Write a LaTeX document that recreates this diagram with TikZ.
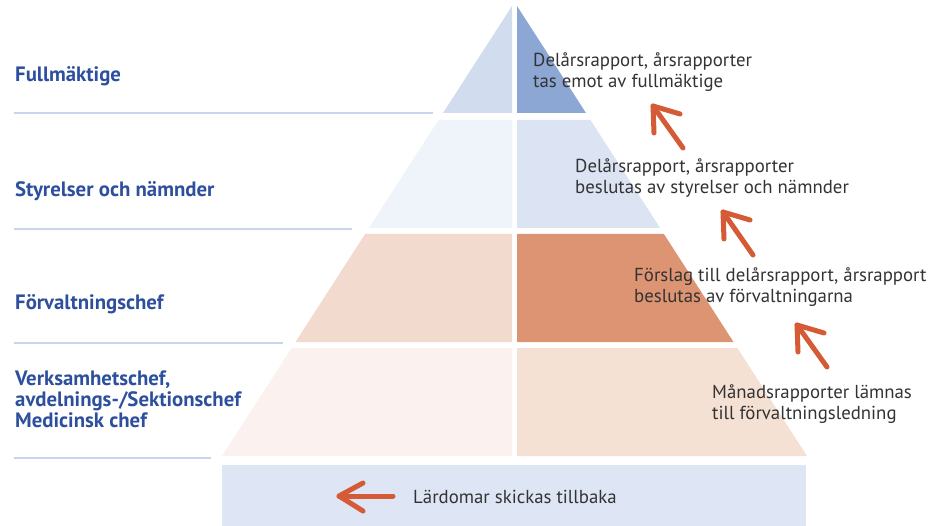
\documentclass[tikz,border=0pt]{standalone}
\usepackage{fontspec}
\setmainfont{PT Sans}
\usetikzlibrary{calc}
\definecolor{tAl}{HTML}{D2DCEF}
\definecolor{tAr}{HTML}{8DA7D5}
\definecolor{tBl}{HTML}{EFF3FA}
\definecolor{tBr}{HTML}{DCE4F4}
\definecolor{tCl}{HTML}{F3DACE}
\definecolor{tCr}{HTML}{DD9473}
\definecolor{tDl}{HTML}{FBF1EE}
\definecolor{tDr}{HTML}{F5E1D4}
\definecolor{barc}{HTML}{DEE5F4}
\definecolor{lblue}{HTML}{2D4F9E}
\definecolor{txtc}{HTML}{333333}
\definecolor{arrc}{HTML}{D45B36}
\definecolor{rulec}{HTML}{C9D5EC}
\tikzset{
  lvl/.style={anchor=base west, inner sep=0pt, font=\fontsize{20.8}{21}\selectfont\bfseries, text=lblue, align=left},
  desc/.style={anchor=base west, inner sep=0pt, font=\fontsize{18.8}{21}\selectfont, text=txtc, align=left},
  rulel/.style={draw=rulec, line width=1.5pt},
  arr/.style={draw=arrc, line width=5pt, line cap=round, line join=round},
}
\begin{document}
\begin{tikzpicture}[x=1pt,y=-1pt]
\useasboundingbox (0,0) rectangle (939,526);
% pyramid tiers
\fill[tAl] (512,6) -- (512,113) -- (443.0,113) -- cycle;
\fill[tAr] (517,6) -- (517,113) -- (586.0,113) -- cycle;
\fill[tBl] (438.5,120) -- (512,120) -- (512,228) -- (368.9,228) -- cycle;
\fill[tBr] (517,120) -- (590.5,120) -- (660.1,228) -- (517,228) -- cycle;
\fill[tCl] (365.1,234) -- (512,234) -- (512,342) -- (295.5,342) -- cycle;
\fill[tCr] (517,234) -- (663.9,234) -- (733.5,342) -- (517,342) -- cycle;
\fill[tDl] (291.6,348) -- (512,348) -- (512,456) -- (222,456) -- cycle;
\fill[tDr] (517,348) -- (737.4,348) -- (807,456) -- (517,456) -- cycle;
% bottom bar
\fill[barc] (222,465) rectangle (806,526);
% rules
\draw[rulel] (14,113) -- (433,113);
\draw[rulel] (14,229) -- (352,229);
\draw[rulel] (14,343) -- (283,343);
\draw[rulel] (14,458) -- (211,458);
% level labels
\node[lvl] (l1) at (15,82) {Fullmäktige};
\node[lvl] (l2) at (15,197) {Styrelser och nämnder};
\node[lvl] (l3) at (15,310) {Förvaltningschef};
\node[lvl] (l4) at (15,427) {Verksamhetschef,\\avdelnings-/Sektionschef\\Medicinsk chef};
% descriptions
\node[desc] (d1) at (533,88) {Delårsrapport, årsrapporter\\tas emot av fullmäktige};
\node[desc] (d2) at (575,194) {Delårsrapport, årsrapporter\\beslutas av styrelser och nämnder};
\node[desc] (d3) at (634,303) {Förslag till delårsrapport, årsrapport\\beslutas av förvaltningarna};
\node[desc] (d4) at (712,419) {Månadsrapporter lämnas\\till förvaltningsledning};
\node[desc] (d5) at (413,503) {Lärdomar skickas tillbaka};
% arrows
\coordinate (a1t) at (653,106); \coordinate (a1s) at (683,148);
\coordinate (a1p) at (680,114); \coordinate (a1q) at (654,133);
\coordinate (a2t) at (723,212); \coordinate (a2s) at (753,255);
\coordinate (a2p) at (750,220); \coordinate (a2q) at (724,239);
\coordinate (a3t) at (797,325); \coordinate (a3s) at (827,367);
\coordinate (a3p) at (824,333); \coordinate (a3q) at (798,352);
\coordinate (a4t) at (339,496); \coordinate (a4s) at (393,496);
\coordinate (a4p) at (363,483); \coordinate (a4q) at (363,511);
\foreach \a in {a1,a2,a3,a4}{
  \draw[arr] (\a s) -- (\a t);
  \draw[arr] (\a p) -- (\a t) -- (\a q);
}
\end{tikzpicture}
\end{document}
